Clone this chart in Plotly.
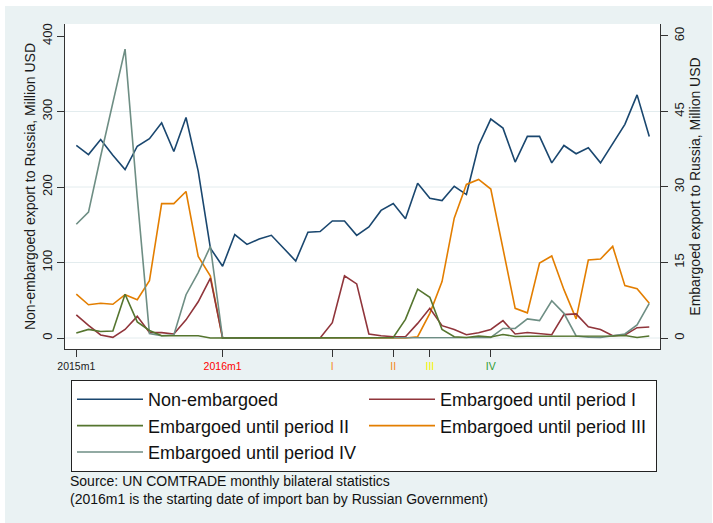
import plotly.graph_objects as go

# ---- data -------------------------------------------------------------
months = [f"{y}m{m}" for y in (2015, 2016, 2017, 2018) for m in range(1, 13)]

non_embargoed = [255, 243, 263, 242, 223, 254, 264, 285, 247, 292, 221, 119,
                 95, 137, 124, 131, 136, 119, 102, 140, 141, 155, 155, 136,
                 147, 169, 178, 158, 205, 185, 182, 201, 190, 255, 290, 278,
                 233, 267, 267, 232, 255, 244, 252, 232, 257, 283, 322, 267]

emb_period_I = [4.6, 2.5, 0.6, 0.13, 1.7, 4.3, 1.1, 1.06, 0.8, 3.6, 7.2, 11.9,
                0, 0, 0, 0, 0, 0, 0, 0, 0, 3.05, 12.35, 10.75,
                0.8, 0.45, 0.25, 0.25, 2.9, 5.9, 2.45, 1.7, 0.66, 1.06, 1.7, 3.45,
                0.8, 1.1, 0.9, 0.66, 4.65, 4.8, 2.25, 1.7, 0.45, 0.6, 2.05, 2.2]

emb_period_II = [1.0, 1.7, 1.3, 1.4, 8.7, 3.2, 1.5, 0.46, 0.45, 0.45, 0.45, 0,
                 0, 0, 0, 0, 0, 0, 0, 0, 0, 0, 0, 0,
                 0, 0, 0.1, 3.7, 9.7, 8.1, 1.7, 0.25, 0.1, 0.4, 0.2, 0.7,
                 0.3, 0.35, 0.35, 0.35, 0.4, 0.35, 0.3, 0.3, 0.4, 0.5, 0.1, 0.4]

emb_period_III = [8.7, 6.6, 6.9, 6.7, 8.6, 7.6, 11.4, 26.7, 26.7, 29.1, 16.2, 12.3,
                  0, 0, 0, 0, 0, 0, 0, 0, 0, 0, 0, 0,
                  0, 0, 0, 0, 0.25, 4.9, 11.2, 23.8, 30.5, 31.5, 29.6, 17.5,
                  5.9, 5.0, 14.9, 16.3, 9.6, 3.8, 15.5, 15.7, 18.2, 10.4, 9.8, 6.9]

emb_period_IV = [22.6, 25.0, 36.1, 46.8, 57.4, 28.0, 0.9, 0.46, 0.6, 8.6, 13.0, 18.2,
                 0, 0, 0, 0, 0, 0, 0, 0, 0, 0, 0, 0,
                 0, 0, 0, 0, 0, 0, 0, 0, 0, 0, 0.1, 1.9,
                 1.9, 3.8, 3.45, 7.4, 4.9, 0.4, 0.15, 0.1, 0.4, 0.8, 2.6, 6.9]

tick_months = ["2015m1", "2016m1", "2016m10", "2017m3", "2017m6", "2017m11"]
tick_labels = ["2015m1", "2016m1", "I", "II", "III", "IV"]
tick_colors = ["#1a1a1a", "#FF0000", "#F58A1F", "#F58A1F", "#F5F500", "#2E9B2E"]

left_ticks = [0, 100, 200, 300, 400]
right_ticks = [0, 15, 30, 45, 60]
grid_vals = [0, 100, 200, 300]

# ---- figure -----------------------------------------------------------
x = list(range(len(months)))
FONT = "Liberation Sans, Arial, Helvetica, sans-serif"

series = [
    ("Non-embargoed", non_embargoed, "#1A476F", "y", 1),
    ("Embargoed until period III", emb_period_III, "#E37E00", "y2", 4),
    ("Embargoed until period I", emb_period_I, "#90353B", "y2", 2),
    ("Embargoed until period IV", emb_period_IV, "#6E8E84", "y2", 5),
    ("Embargoed until period II", emb_period_II, "#55752F", "y2", 3),
]

fig = go.Figure()
for name, vals, color, yax, rank in series:
    fig.add_trace(go.Scatter(
        x=x, y=vals, name=name, mode="lines", yaxis=yax,
        line=dict(color=color, width=1.6), legendrank=rank,
        customdata=months, hovertemplate="%{customdata}: %{y}<extra>" + name + "</extra>",
    ))

tickvals = [months.index(t) for t in tick_months]
ticktext = [f"<span style='color:{c}'>{t}</span>" for t, c in zip(tick_labels, tick_colors)]

W, H = 713, 523
L, R, T, B = 65, 53, 24, 174
pw, ph = W - L - R, H - T - B

def px(xp):
    return (xp - L) / pw

def py(yp):
    return (H - B - yp) / ph

shapes = [
    dict(type="rect", xref="paper", yref="paper", x0=px(5), x1=px(712), y0=py(523), y1=py(6),
         fillcolor="#EAF2F3", line=dict(width=0), layer="below"),
    dict(type="rect", xref="paper", yref="paper", x0=0, x1=1, y0=0, y1=1,
         fillcolor="white", line=dict(width=0), layer="below"),
]
for g in grid_vals:
    shapes.append(dict(type="line", xref="paper", yref="y", x0=0, x1=1, y0=g, y1=g,
                       line=dict(color="#E3ECEE", width=1), layer="below"))

axis_line = dict(showline=True, linecolor="#333333", linewidth=1.2, ticks="outside",
                 ticklen=7, tickwidth=1.2, tickcolor="#333333", zeroline=False, showgrid=False)

fig.update_layout(
    width=W, height=H,
    margin=dict(l=L, r=R, t=T, b=B, autoexpand=False),
    paper_bgcolor="white", plot_bgcolor="white",
    font=dict(family=FONT, color="#1a1a1a"),
    shapes=shapes,
    xaxis=dict(range=[-0.927, 47.88], tickvals=tickvals, ticktext=ticktext,
               tickfont=dict(size=10.5), **axis_line),
    yaxis=dict(range=[-14.57, 415.9], tickvals=left_ticks, tickangle=-90,
               tickfont=dict(size=13),
               title=dict(text="Non-embargoed export to Russia, Million USD",
                          font=dict(size=14), standoff=0),
               **axis_line),
    yaxis2=dict(range=[-2.185, 62.38], tickvals=right_ticks, tickangle=-90,
                overlaying="y", side="right", tickfont=dict(size=13),
                title=dict(text="Embargoed export to Russia, Million USD",
                           font=dict(size=14), standoff=3),
                **axis_line),
    legend=dict(orientation="h", x=px(71), y=py(380), xanchor="left", yanchor="top",
                bgcolor="white", bordercolor="#222222", borderwidth=1,
                font=dict(size=18, family=FONT, color="#111111"),
                itemwidth=66, entrywidth=211, entrywidthmode="pixels",
                traceorder="normal"),
    annotations=[
        dict(text="Source: UN COMTRADE monthly bilateral statistics<br>"
                  "(2016m1 is the starting date of import ban by Russian Government)",
             xref="paper", yref="paper", x=px(68), y=py(490.5), xanchor="left", yanchor="middle",
             align="left", showarrow=False, font=dict(size=14, family=FONT, color="#111111")),
    ],
)

fig.write_html("out.html")
